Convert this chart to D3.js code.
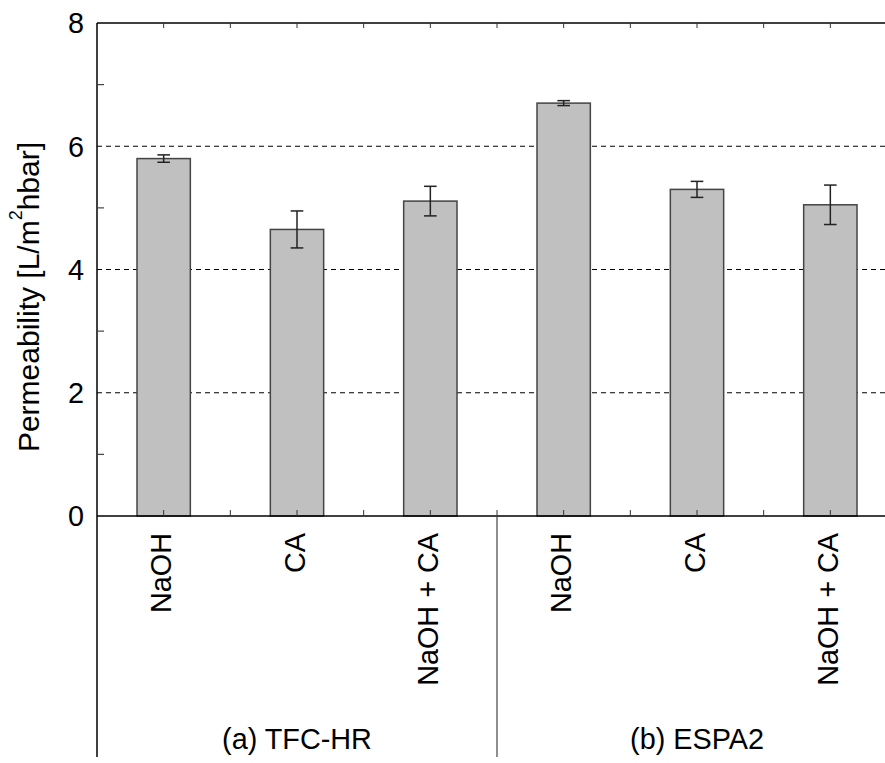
<!DOCTYPE html>
<html>
<head>
<meta charset="utf-8">
<script src="https://cdn.jsdelivr.net/npm/d3@7"></script>
<style>
html,body{margin:0;padding:0;background:#fff;}
svg{display:block;font-family:"Liberation Sans",Arial,sans-serif;}
</style>
</head>
<body>
<svg id="chart" width="885" height="763"></svg>
<script>
// ---- data ----
const groups = ["(a) TFC-HR", "(b) ESPA2"];
const treatments = ["NaOH", "CA", "NaOH + CA"];
const permeability = [5.80, 4.65, 5.11, 6.70, 5.30, 5.05];
const errors = [0.06, 0.30, 0.24, 0.04, 0.13, 0.32];
const yTicks = [0, 2, 4, 6, 8];
const yMinorTicks = [1, 3, 5, 7];

(function () {
const bars = [];
groups.forEach((g, gi) => treatments.forEach((t, ti) => {
  const i = gi * treatments.length + ti;
  bars.push({key: g + "|" + t, group: g, label: t, value: permeability[i], err: errors[i]});
}));

const svg = d3.select("#chart");
const pLeft = 97, pTop = 23, pBottom = 516, pRight = 897;
const fs = 28.8;

const x = d3.scaleBand().domain(bars.map(d => d.key)).range([pLeft, pRight])
  .paddingInner(0.6).paddingOuter(0.3);
const y = d3.scaleLinear().domain([0, 8]).range([pBottom, pTop]);
const step = x.step();

// gridlines (dashed) at major ticks
svg.append("g").selectAll("line").data(yTicks.filter(v => v > 0 && v < 8)).join("line")
  .attr("x1", pLeft).attr("x2", pRight)
  .attr("y1", d => y(d)).attr("y2", d => y(d))
  .attr("stroke", "#000").attr("stroke-width", 1).attr("stroke-dasharray", "5,4");

// bars
svg.append("g").selectAll("rect").data(bars).join("rect")
  .attr("x", d => x(d.key)).attr("width", x.bandwidth())
  .attr("y", d => y(d.value)).attr("height", d => y(0) - y(d.value))
  .attr("fill", "#c0c0c0").attr("stroke", "#444").attr("stroke-width", 1.5);

// error bars
const eb = svg.append("g").attr("stroke", "#222").attr("stroke-width", 1.5);
bars.forEach(d => {
  const cx = x(d.key) + x.bandwidth() / 2;
  eb.append("line").attr("x1", cx).attr("x2", cx).attr("y1", y(d.value + d.err)).attr("y2", y(d.value - d.err));
  [d.value + d.err, d.value - d.err].forEach(v => {
    eb.append("line").attr("x1", cx - 6.3).attr("x2", cx + 6.3).attr("y1", y(v)).attr("y2", y(v));
  });
});

// frame: top, left, bottom
const ax = svg.append("g").attr("stroke", "#000").attr("stroke-width", 1.5);
ax.append("line").attr("x1", pLeft).attr("x2", pRight).attr("y1", pTop).attr("y2", pTop);
ax.append("line").attr("x1", pLeft).attr("x2", pRight).attr("y1", pBottom).attr("y2", pBottom);
ax.append("line").attr("x1", pLeft).attr("x2", pLeft).attr("y1", pTop).attr("y2", 757);

// x ticks at every half-step (top: down, bottom: up)
const halfTicks = d3.range(1, 12).map(k => pLeft + k * step / 2);
const tk = svg.append("g").attr("stroke", "#333").attr("stroke-width", 1);
halfTicks.forEach(px => {
  tk.append("line").attr("x1", px).attr("x2", px).attr("y1", pTop).attr("y2", pTop + 5);
  tk.append("line").attr("x1", px).attr("x2", px).attr("y1", pBottom).attr("y2", pBottom - 6);
});
// group divider
const divX = x(bars[3].key) - (step - x.bandwidth()) / 2;
svg.append("line").attr("x1", divX).attr("x2", divX).attr("y1", pBottom).attr("y2", 757)
  .attr("stroke", "#444").attr("stroke-width", 1.2);

// y axis minor ticks (inward)
svg.append("g").selectAll("line").data(yMinorTicks).join("line")
  .attr("x1", pLeft).attr("x2", pLeft + 7).attr("y1", d => y(d)).attr("y2", d => y(d))
  .attr("stroke", "#444").attr("stroke-width", 1.2);

// y tick labels
svg.append("g").selectAll("text").data(yTicks).join("text")
  .attr("x", 84).attr("y", d => y(d)).attr("dy", "0.36em")
  .attr("text-anchor", "end").attr("font-size", fs).text(d => d);

// y axis title
const tfs = 30;
const yt = svg.append("text")
  .attr("transform", "translate(39,297) rotate(-90)")
  .attr("text-anchor", "middle").attr("font-size", tfs);
yt.append("tspan").text("Permeability [L/m");
yt.append("tspan").attr("font-size", tfs * 0.6).attr("dy", "-0.95em").text("2");
yt.append("tspan").attr("dy", "0.57em").text("hbar]");

// category labels (rotated)
svg.append("g").selectAll("text").data(bars).join("text")
  .attr("transform", d => `translate(${x(d.key) + x.bandwidth() / 2 + 7.5},533) rotate(-90)`)
  .attr("text-anchor", "end").attr("font-size", fs).text(d => d.label);

// group labels
const groupCenters = [(pLeft + divX) / 2, (divX + pRight) / 2];
svg.append("g").selectAll("text").data(groups).join("text")
  .attr("x", (d, i) => groupCenters[i]).attr("y", 749)
  .attr("text-anchor", "middle").attr("font-size", fs).text(d => d);
})();
</script>
</body>
</html>
